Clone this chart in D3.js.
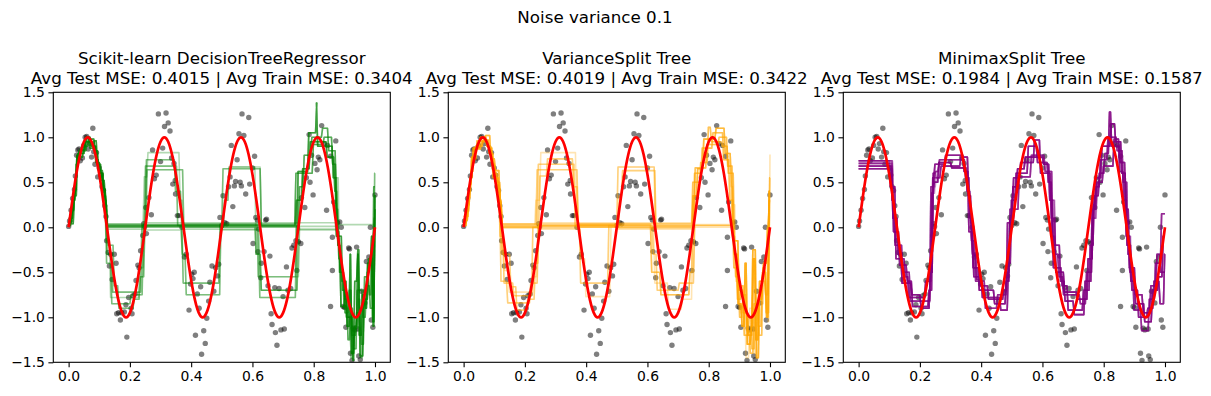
<!DOCTYPE html>
<html><head><meta charset="utf-8">
<script src="https://cdn.jsdelivr.net/npm/d3@7"></script>
<style>
body{margin:0;background:#fff}
svg{display:block}
text{font-family:"DejaVu Sans",sans-serif;fill:#000}
</style>
</head><body>
<svg id="chart" width="1211" height="396"></svg>
<script>
// ---------------- DATA ----------------
const SUPTITLE = "Noise variance 0.1";
const PANEL_TITLES = [
  ["Scikit-learn DecisionTreeRegressor", "Avg Test MSE: 0.4015 | Avg Train MSE: 0.3404"],
  ["VarianceSplit Tree", "Avg Test MSE: 0.4019 | Avg Train MSE: 0.3422"],
  ["MinimaxSplit Tree", "Avg Test MSE: 0.1984 | Avg Train MSE: 0.1587"]
];
const PANEL_COLORS = ["#008000", "#ffa500", "#800080"];
const X_TICKS = [0.0, 0.2, 0.4, 0.6, 0.8, 1.0];
const Y_TICKS = [-1.5, -1.0, -0.5, 0.0, 0.5, 1.0, 1.5];

// noisy training samples (x, y)
const SAMPLES = [
[0.000,0.01],[0.003,0.07],[0.008,0.19],[0.013,0.32],[0.019,0.42],[0.022,0.57],[0.026,0.80],[0.030,0.86],[0.034,0.87],[0.038,0.74],[0.045,0.77],[0.049,0.91],[0.054,1.00],[0.059,1.01],[0.064,0.87],[0.068,0.93],[0.075,0.78],[0.079,1.10],[0.082,0.84],[0.086,0.70],[0.091,0.83],[0.095,0.56],[0.100,0.66],[0.105,0.58],[0.109,0.45],[0.114,0.41],[0.118,0.24],[0.122,0.12],
[0.124,-0.15],[0.129,-0.28],[0.133,-0.43],[0.137,-0.30],[0.142,-0.58],[0.149,-0.30],[0.155,-0.40],[0.157,-0.96],[0.163,-0.95],[0.169,-1.03],[0.173,-0.95],[0.182,-0.94],[0.187,-0.86],[0.190,-1.22],[0.196,-0.78],[0.204,-0.90],[0.207,-0.96],[0.210,-0.76],[0.217,-0.74],[0.220,-0.59],[0.226,-0.42],[0.230,-0.45],[0.235,-0.26],[0.242,-0.09],[0.245,0.04],
[0.248,0.01],[0.252,0.22],[0.254,-0.07],[0.262,0.33],[0.270,0.14],[0.274,0.86],[0.280,0.54],[0.286,0.58],[0.293,1.26],[0.300,0.73],[0.307,0.88],[0.313,1.12],[0.318,1.27],[0.325,1.16],[0.331,1.07],[0.336,0.77],[0.340,0.48],[0.344,0.71],[0.349,0.37],[0.355,0.13],[0.360,0.13],[0.348,0.52],[0.370,0.00],
[0.378,-0.33],[0.384,-0.30],[0.393,-0.92],[0.398,-0.63],[0.402,-0.52],[0.406,-0.57],[0.410,-0.50],[0.414,-1.20],[0.420,-0.74],[0.426,-0.90],[0.431,-0.66],[0.434,-1.41],[0.441,-1.15],[0.446,-1.29],[0.451,-1.01],[0.457,-0.82],[0.461,-0.61],[0.468,-0.43],[0.474,-0.71],[0.480,-0.45],[0.486,-0.54],[0.490,-0.41],[0.494,0.11],
[0.500,0.02],[0.504,0.35],[0.510,0.05],[0.516,0.04],[0.522,0.45],[0.527,0.56],[0.531,0.91],[0.536,0.23],[0.541,0.46],[0.545,0.51],[0.550,0.75],[0.556,1.04],[0.560,0.50],[0.564,0.46],[0.566,1.26],[0.572,1.02],[0.578,0.37],[0.588,1.22],[0.591,0.48],[0.600,0.66],[0.607,0.79],[0.611,0.11],[0.616,0.08],[0.620,-0.02],
[0.602,-0.18],[0.618,-0.27],[0.627,-0.56],[0.629,-0.40],[0.638,-0.27],[0.643,0.08],[0.646,0.09],[0.651,-0.65],[0.657,-0.32],[0.661,-0.96],[0.664,-1.08],[0.673,-0.67],[0.675,-1.17],[0.680,-1.31],[0.687,-0.68],[0.693,-1.14],[0.700,-0.77],[0.704,-1.13],[0.711,-0.44],[0.716,-0.70],[0.725,-0.68],[0.729,-0.23],[0.735,-0.20],[0.742,-0.15],[0.745,-0.48],[0.750,-0.16],[0.758,-0.18],[0.760,0.33],[0.771,0.22],
[0.776,0.55],[0.785,1.03],[0.788,0.50],[0.793,0.80],[0.798,0.36],[0.804,0.71],[0.811,0.64],[0.815,0.78],[0.820,0.75],[0.826,1.13],[0.834,0.93],[0.842,0.19],[0.845,0.91],[0.855,0.79],[0.861,-0.11],[0.865,0.28],[0.872,0.96],[0.878,0.05],[0.885,0.06],[0.890,0.00],
[0.855,-0.88],[0.861,-0.48],[0.896,-0.88],[0.901,-0.89],[0.905,-1.11],[0.914,-0.23],[0.917,-0.24],[0.920,-1.40],[0.925,-1.48],[0.929,-1.12],[0.934,-1.14],[0.940,-0.22],[0.945,-1.13],[0.947,-1.43],[0.952,-1.47],[0.956,-0.71],[0.967,-0.84],[0.972,-0.38],[0.980,-0.33],[0.985,0.00],[0.988,-1.03],[0.993,-1.11],[1.000,0.36]
];

// true function samples
const TRUE_X = [0,0.0125,0.025,0.0375,0.05,0.0625,0.075,0.0875,0.1,0.1125,0.125,0.1375,0.15,0.1625,0.175,0.1875,0.2,0.2125,0.225,0.2375,
0.25,0.2625,0.275,0.2875,0.3,0.3125,0.325,0.3375,0.35,0.3625,0.375,0.3875,0.4,0.4125,0.425,0.4375,0.45,0.4625,0.475,0.4875,
0.5,0.5125,0.525,0.5375,0.55,0.5625,0.575,0.5875,0.6,0.6125,0.625,0.6375,0.65,0.6625,0.675,0.6875,0.7,0.7125,0.725,0.7375,
0.75,0.7625,0.775,0.7875,0.8,0.8125,0.825,0.8375,0.85,0.8625,0.875,0.8875,0.9,0.9125,0.925,0.9375,0.95,0.9625,0.975,0.9875,1.0];
const TRUE_Y = [0,0.309,0.588,0.809,0.951,1,0.951,0.809,0.588,0.309,0,-0.309,-0.588,-0.809,-0.951,-1,-0.951,-0.809,-0.588,-0.309,
0,0.309,0.588,0.809,0.951,1,0.951,0.809,0.588,0.309,0,-0.309,-0.588,-0.809,-0.951,-1,-0.951,-0.809,-0.588,-0.309,
0,0.309,0.588,0.809,0.951,1,0.951,0.809,0.588,0.309,0,-0.309,-0.588,-0.809,-0.951,-1,-0.951,-0.809,-0.588,-0.309,
0,0.309,0.588,0.809,0.951,1,0.951,0.809,0.588,0.309,0,-0.309,-0.588,-0.809,-0.951,-1,-0.951,-0.809,-0.588,-0.309,0];

// flat-segment start per half cycle (used when a tree does not fit that half cycle)
const FLAT_STARTS = [0, 0.122, 0.248, 0.372, 0.497, 0.625, 0.75, 0.88];

// ---- Panel 1 (DecisionTreeRegressor) step pieces per half cycle ----
const G_PEAK1 = {
  a:[[0,0.06],[0.01,0.3],[0.02,0.6],[0.026,0.82],[0.05,0.95],[0.075,0.9],[0.085,0.72],[0.1,0.6],[0.108,0.43],[0.117,0.2]],
  b:[[0,0.02],[0.006,0.19],[0.016,0.42],[0.023,0.8],[0.033,0.86],[0.052,1.0],[0.07,0.9],[0.088,0.75],[0.096,0.6],[0.112,0.35],[0.12,0.18]],
  c:[[0,0.1],[0.012,0.37],[0.021,0.7],[0.03,0.85],[0.056,1.0],[0.066,0.88],[0.08,0.96],[0.09,0.7],[0.104,0.52],[0.116,0.3]],
  d:[[0,0.04],[0.015,0.35],[0.025,0.78],[0.045,0.9],[0.062,0.98],[0.082,0.85],[0.094,0.63],[0.11,0.42],[0.119,0.24]]
};
const G_DIP1 = {
  a:[[0.122,-0.3],[0.14,-0.72],[0.235,0.02]],
  b:[[0.12,-0.4],[0.137,-0.85],[0.2,-0.75],[0.24,0.02]],
  c:[[0.125,-0.2],[0.145,-0.65],[0.16,-0.9],[0.21,-0.8],[0.23,-0.55],[0.245,0.03]],
  d:[[0.118,-0.15],[0.133,-0.78],[0.228,-0.45],[0.243,0.01]]
};
const G_PEAK2 = {
  a:[[0.247,0.68],[0.352,0.02]],
  b:[[0.243,0.56],[0.255,0.83],[0.36,0.3],[0.37,0.02]],
  c:[[0.25,0.75],[0.345,0.4],[0.365,0.03]],
  d:[[0.252,0.64],[0.372,0.02]]
};
const G_DIP2 = {
  a:[[0.37,-0.62],[0.49,0.02]],
  b:[[0.367,-0.3],[0.38,-0.75],[0.493,0.02]]
};
const G_PEAK3 = {
  a:[[0.5,0.65],[0.625,0.02]],
  b:[[0.505,0.3],[0.52,0.67],[0.635,0.02]]
};
const G_DIP3 = {
  a:[[0.615,-0.55],[0.75,0.02]],
  b:[[0.608,-0.3],[0.625,-0.7],[0.745,-0.45],[0.755,0.02]],
  c:[[0.62,-0.78],[0.74,0.02]]
};
const G_PEAK4 = {
  a:[[0.74,0.3],[0.76,0.65],[0.785,0.95],[0.84,0.78],[0.865,0.4],[0.875,0.02]],
  b:[[0.745,0.62],[0.78,1.05],[0.806,1.38],[0.809,0.9],[0.86,0.55],[0.88,0.02]],
  c:[[0.75,0.45],[0.765,0.8],[0.79,1.0],[0.825,1.1],[0.845,0.85],[0.87,0.2],[0.885,-0.1]],
  d:[[0.738,0.6],[0.795,0.92],[0.83,1.0],[0.858,0.7],[0.872,0.3]]
};
const G_DIP4 = {
  a:[[0.875,-0.2],[0.885,-0.88],[0.9,-0.6],[0.905,-1.1],[0.915,-0.3],[0.92,-1.4],[0.93,-1.1],[0.94,-0.3],[0.945,-1.2],[0.955,-0.75],[0.965,-0.9],[0.972,-0.4],[0.985,-0.1],[0.99,-1.05],[0.996,0.36]],
  b:[[0.88,-0.5],[0.895,-0.9],[0.91,-1.0],[0.918,-1.45],[0.928,-1.12],[0.942,-0.8],[0.95,-1.45],[0.958,-0.7],[0.97,-0.5],[0.98,-0.33],[0.987,-1.0],[0.995,0.6]],
  c:[[0.87,-0.1],[0.89,-0.7],[0.903,-1.0],[0.924,-1.48],[0.93,-0.6],[0.94,-0.25],[0.947,-1.43],[0.96,-0.8],[0.975,-0.35],[0.99,-1.1],[0.996,0.2]],
  d:[[0.878,-0.35],[0.888,-0.6],[0.898,-0.95],[0.912,-0.7],[0.921,-1.2],[0.936,-0.95],[0.952,-1.3],[0.962,-0.55],[0.978,-0.75],[0.986,-0.2],[0.994,0.1]],
  e:[[0.872,-0.05],[0.882,-0.5],[0.897,-0.8],[0.908,-1.25],[0.917,-0.9],[0.926,-1.35],[0.938,-0.7],[0.957,-1.0],[0.968,-0.65],[0.981,-0.9],[0.992,0.45]]
};
const G_TREES = ["aaa-a-aa","bb-a-bbb","c-b--acd","dc--b-da","a-c---be","bd-b--ac","c-d--c-a","d---a-cd","aa----dc",
                 "b-a-bbba","c----aae","db-----c","a--a--ca","bc-b-c-d","c-----dc","d-c---be","a-----a-","b-d--b-b"];
const G_BASES = [0.02,0.0,0.03,0.01,0.04,0.02,-0.02,0.01,0.03,0.0,0.02,0.05,0.01,-0.03,0.02,0.0,0.03,0.01];

// ---- Panel 2 (VarianceSplit) ----
const O_PEAK1 = {
  a:[[0,0.02],[0.008,0.25],[0.018,0.55],[0.027,0.88],[0.05,1.0],[0.072,0.9],[0.088,0.7],[0.1,0.55],[0.112,0.3]],
  b:[[0,0.08],[0.012,0.4],[0.022,0.78],[0.035,0.9],[0.06,0.97],[0.08,0.82],[0.095,0.6],[0.108,0.42],[0.118,0.15]],
  c:[[0,0.04],[0.006,0.18],[0.016,0.48],[0.024,0.76],[0.04,0.96],[0.068,1.02],[0.085,0.76],[0.1,0.63],[0.115,0.28]],
  d:[[0,0.12],[0.014,0.33],[0.02,0.62],[0.03,0.87],[0.055,0.95],[0.078,0.88],[0.092,0.55],[0.106,0.5],[0.117,0.22]]
};
const O_DIP1 = {
  a:[[0.12,-0.25],[0.13,-0.48],[0.145,-0.72],[0.225,-0.55],[0.238,0.02]],
  b:[[0.118,-0.6],[0.14,-0.84],[0.215,-0.62],[0.24,0.01]],
  c:[[0.122,-0.3],[0.15,-0.66],[0.17,-0.92],[0.205,-0.8],[0.23,-0.4],[0.242,0.03]],
  d:[[0.115,-0.1],[0.128,-0.62],[0.16,-0.76],[0.222,0.0]]
};
const O_PEAK2 = {
  a:[[0.24,0.7],[0.36,0.02]],
  b:[[0.232,0.3],[0.248,0.83],[0.365,0.01]],
  c:[[0.245,0.57],[0.27,0.76],[0.355,0.45],[0.37,0.03]],
  d:[[0.236,0.64],[0.37,0.0]]
};
const O_DIP2 = {
  a:[[0.378,-0.62],[0.47,0.02]],
  b:[[0.38,-0.35],[0.395,-0.77],[0.477,0.01]]
};
const O_PEAK3 = {
  a:[[0.5,0.67],[0.622,0.02]],
  b:[[0.505,0.35],[0.515,0.63],[0.624,0.01]]
};
const O_DIP3 = {
  a:[[0.61,-0.5],[0.64,-0.75],[0.735,-0.5],[0.765,0.02]],
  b:[[0.62,-0.62],[0.665,-0.91],[0.71,-0.8],[0.75,0.01]],
  c:[[0.615,-0.3],[0.628,-0.7],[0.7,-0.62],[0.77,0.03]]
};
const O_PEAK4 = {
  a:[[0.745,0.35],[0.76,0.65],[0.78,0.98],[0.82,1.1],[0.85,0.82],[0.87,0.45],[0.885,0.0]],
  b:[[0.75,0.6],[0.775,0.88],[0.81,1.05],[0.845,0.75],[0.865,0.3],[0.89,-0.1]],
  c:[[0.744,0.5],[0.77,0.72],[0.795,1.11],[0.805,0.95],[0.84,0.9],[0.86,0.6],[0.88,0.15]],
  d:[[0.752,0.66],[0.79,0.92],[0.83,1.0],[0.858,0.68],[0.876,0.25]]
};
const O_DIP4 = {
  a:[[0.88,-0.3],[0.892,-0.85],[0.905,-1.1],[0.915,-0.4],[0.922,-1.3],[0.935,-1.1],[0.942,-0.35],[0.95,-1.25],[0.96,-0.8],[0.972,-0.5],[0.985,-1.0],[0.993,0.4]],
  b:[[0.885,-0.6],[0.9,-0.95],[0.918,-1.45],[0.93,-0.9],[0.945,-1.4],[0.955,-0.7],[0.968,-0.85],[0.978,-0.35],[0.99,-1.05],[0.996,0.81]],
  c:[[0.876,-0.15],[0.895,-0.7],[0.91,-0.95],[0.925,-1.2],[0.94,-0.25],[0.952,-1.45],[0.962,-0.6],[0.975,-0.4],[0.988,0.0],[0.994,0.3]],
  d:[[0.878,-0.45],[0.89,-0.8],[0.903,-0.65],[0.912,-1.2],[0.927,-1.0],[0.937,-1.35],[0.948,-0.9],[0.958,-1.1],[0.97,-0.6],[0.982,-0.75],[0.992,-0.1]],
  e:[[0.874,-0.1],[0.884,-0.55],[0.897,-1.0],[0.908,-0.75],[0.92,-1.15],[0.932,-1.4],[0.944,-0.85],[0.96,-1.2],[0.973,-0.45],[0.984,-0.95],[0.995,0.55]]
};
const O_TREES = ["ab-a-aac","bac-a-bd","c-d--bca","dc--b-dc","a-a---ae","bd-b--ba","c-b--c-c","d---a-ad","ab----ca",
                 "b-c---dc","c----aae","dc-----a","a--a--bc","bd---c-d","c-----ca","d-a-b-db","a------e","b-d--a-a"];
const O_BASES = [0.01,0.03,0.0,0.02,0.04,-0.02,0.02,0.01,0.05,0.0,0.03,0.02,-0.01,0.02,0.04,0.01,0.0,0.03];

// ---- Panel 3 (MinimaxSplit) ----
const M_H0 = { a:[[0,0.74]], b:[[0,0.68]], c:[[0,0.65]], d:[[0,0.71]] };
const M_H1 = {
  a:[[0.105,0.3],[0.115,-0.2],[0.14,-0.5],[0.165,-0.82],[0.232,0.45]],
  b:[[0.11,-0.05],[0.13,-0.42],[0.155,-0.6],[0.172,-0.88],[0.226,-0.7],[0.238,0.55]],
  c:[[0.1,0.45],[0.118,-0.35],[0.148,-0.55],[0.16,-0.78],[0.215,-0.6],[0.235,0.38]],
  d:[[0.108,0.1],[0.125,-0.3],[0.138,-0.62],[0.17,-0.75],[0.2,-0.9],[0.23,-0.5],[0.24,0.6]]
};
const M_H2 = {
  a:[[0.248,0.62],[0.26,0.75],[0.345,0.55],[0.36,0.1]],
  b:[[0.245,0.7],[0.28,0.8],[0.34,0.62],[0.356,-0.05]],
  c:[[0.25,0.55],[0.265,0.68],[0.33,0.78],[0.355,0.35],[0.365,-0.15]],
  d:[[0.243,0.5],[0.258,0.72],[0.3,0.66],[0.35,0.4],[0.362,0.05]]
};
const M_H3 = {
  a:[[0.37,-0.45],[0.39,-0.7],[0.44,-0.85],[0.478,-0.6],[0.49,0.1]],
  b:[[0.368,-0.3],[0.382,-0.58],[0.4,-0.78],[0.46,-0.92],[0.485,-0.4],[0.495,0.3]],
  c:[[0.372,-0.55],[0.395,-0.65],[0.42,-0.8],[0.47,-0.7],[0.482,0.05]],
  d:[[0.365,-0.15],[0.378,-0.6],[0.41,-0.9],[0.45,-0.75],[0.48,-0.5],[0.49,0.2]]
};
const M_H4 = {
  a:[[0.5,0.45],[0.515,0.65],[0.54,0.78],[0.6,0.7],[0.62,0.3]],
  b:[[0.498,0.3],[0.51,0.6],[0.55,0.9],[0.58,0.72],[0.615,0.5],[0.628,-0.1]],
  c:[[0.502,0.55],[0.525,0.72],[0.57,0.97],[0.59,0.6],[0.625,0.1]],
  d:[[0.505,0.2],[0.52,0.56],[0.56,0.8],[0.605,0.62],[0.63,-0.2]]
};
const M_H5 = {
  a:[[0.635,-0.3],[0.65,-0.55],[0.665,-0.75],[0.72,-0.85],[0.74,-0.5],[0.76,0.1]],
  b:[[0.632,-0.45],[0.66,-0.65],[0.68,-0.92],[0.73,-0.7],[0.752,-0.2],[0.765,0.35]],
  c:[[0.638,-0.2],[0.655,-0.6],[0.67,-0.82],[0.7,-0.97],[0.735,-0.6],[0.758,0.2]],
  d:[[0.64,-0.5],[0.668,-0.72],[0.71,-0.8],[0.745,-0.35],[0.762,0.25]]
};
const M_H6 = {
  a:[[0.77,0.45],[0.785,0.75],[0.81,1.0],[0.84,0.85],[0.86,0.5],[0.875,-0.3]],
  b:[[0.772,0.55],[0.79,0.9],[0.82,1.15],[0.835,0.95],[0.855,0.6],[0.87,-0.1]],
  c:[[0.768,0.35],[0.782,0.6],[0.8,0.82],[0.815,1.28],[0.822,0.9],[0.85,0.72],[0.868,0.2],[0.88,-0.45]],
  d:[[0.775,0.5],[0.795,0.68],[0.83,0.98],[0.848,0.62],[0.862,0.3],[0.872,-0.2]]
};
const M_H7 = {
  a:[[0.885,-0.6],[0.9,-0.85],[0.93,-1.05],[0.955,-0.7],[0.975,-0.55],[0.99,-0.1]],
  b:[[0.882,-0.5],[0.895,-0.92],[0.92,-1.15],[0.945,-0.8],[0.965,-0.4],[0.985,0.15]],
  c:[[0.888,-0.7],[0.91,-1.0],[0.94,-0.9],[0.96,-0.6],[0.98,-0.85],[0.995,-0.3]],
  d:[[0.885,-0.45],[0.9,-0.75],[0.925,-0.95],[0.95,-0.65],[0.97,-0.3],[0.982,-0.5]]
};
const M_TREES = ["abcdabcd","bcdabcda","cdabcdab","dabcdabc","acbdacbd","bdacbdac","cadbcadb","dbcadbca","abdcabdc",
                 "badcbadc","cdbacdba","dcabdcab","adcbadcb","bacdbacd","cbadcbad","dcbadcba","acdbbdca","bdcaacbd",
                 "aabbccdd","bbccddaa","ccddaabb","ddaabbcc","abbaabba","cddccddc"];
const M_BASES = [0,0,0,0,0,0,0,0,0,0,0,0,0,0,0,0,0,0,0,0,0,0,0,0];

// ---------------- BUILD ----------------
const TRANSITION = 0.004; // prediction grid spacing: transitions are drawn as steep ramps
function buildTree(pieces, combo, base) {
  let pts = [];
  for (let k = 0; k < pieces.length; k++) {
    const ch = combo[k];
    const piece = (ch === '-') ? [[FLAT_STARTS[k], base]] : pieces[k][ch];
    const x0 = piece[0][0];
    pts = pts.filter(p => p[0] < x0);
    pts = pts.concat(piece);
  }
  const out = [pts[0]];
  for (let i = 1; i < pts.length; i++) {
    out.push([pts[i][0], pts[i - 1][1]]);
    out.push([Math.min(1, pts[i][0] + TRANSITION), pts[i][1]]);
  }
  out.push([1.0, pts[pts.length - 1][1]]);
  return out;
}
const PANEL_TREES = [
  G_TREES.map((c, i) => buildTree([G_PEAK1, G_DIP1, G_PEAK2, G_DIP2, G_PEAK3, G_DIP3, G_PEAK4, G_DIP4], c, G_BASES[i])),
  O_TREES.map((c, i) => buildTree([O_PEAK1, O_DIP1, O_PEAK2, O_DIP2, O_PEAK3, O_DIP3, O_PEAK4, O_DIP4], c, O_BASES[i])),
  M_TREES.map((c, i) => buildTree([M_H0, M_H1, M_H2, M_H3, M_H4, M_H5, M_H6, M_H7], c, M_BASES[i]))
];

// ---------------- DRAW ----------------
const svg = d3.select("#chart");
const PANEL_LEFTS = [53.3, 448.3, 843.3];
const PW = 337, PT = 92.3, PH = 270;

svg.append("text").attr("x", 595).attr("y", 23).attr("text-anchor", "middle")
  .style("font-size", "16.7px").text(SUPTITLE);

const fmt = v => d3.format(".1f")(v).replace("-", "\u2212");

PANEL_LEFTS.forEach((L, pi) => {
  const x = d3.scaleLinear().domain([-0.05, 1.05]).range([0, PW]);
  const y = d3.scaleLinear().domain([-1.5, 1.5]).range([PH, 0]);
  const g = svg.append("g").attr("transform", `translate(${L},${PT})`);

  const clipId = "clip" + pi;
  g.append("clipPath").attr("id", clipId).append("rect").attr("width", PW).attr("height", PH);
  const plot = g.append("g").attr("clip-path", `url(#${clipId})`);

  // samples
  plot.selectAll("circle").data(SAMPLES).join("circle")
    .attr("cx", d => x(d[0])).attr("cy", d => y(d[1])).attr("r", 2.7)
    .attr("fill", "#000").attr("fill-opacity", 0.5);

  // trees
  const stepLine = d3.line().x(d => x(d[0])).y(d => y(d[1]));
  plot.selectAll("path.tree").data(PANEL_TREES[pi]).join("path").attr("class", "tree")
    .attr("d", stepLine).attr("fill", "none")
    .attr("stroke", PANEL_COLORS[pi]).attr("stroke-opacity", 0.3).attr("stroke-width", 1.6)
    .attr("stroke-linejoin", "round");

  // true function
  const trueLine = d3.line().x(d => x(d[0])).y(d => y(d[1])).curve(d3.curveNatural);
  plot.append("path").datum(TRUE_X.map((v, i) => [v, TRUE_Y[i]]))
    .attr("d", trueLine).attr("fill", "none").attr("stroke", "#ff0000").attr("stroke-width", 2.7);

  // axes
  const xa = g.append("g").attr("transform", `translate(0,${PH})`)
    .call(d3.axisBottom(x).tickValues(X_TICKS).tickFormat(fmt).tickSizeOuter(0).tickSize(4.9).tickPadding(3.5));
  const ya = g.append("g")
    .call(d3.axisLeft(y).tickValues(Y_TICKS).tickFormat(fmt).tickSizeOuter(0).tickSize(4.9).tickPadding(3.5));
  [xa, ya].forEach(a => {
    a.select(".domain").remove();
    a.selectAll("line").attr("stroke", "#000").attr("stroke-width", 1.1);
    a.selectAll("text").style("font-size", "13.9px").attr("font-family", "DejaVu Sans").attr("fill", "#000");
  });

  g.append("rect").attr("width", PW).attr("height", PH).attr("fill", "none")
    .attr("stroke", "#000").attr("stroke-width", 1.1);

  // titles
  g.append("text").attr("x", PW / 2).attr("y", -28.3).attr("text-anchor", "middle")
    .style("font-size", "16.7px").text(PANEL_TITLES[pi][0]);
  g.append("text").attr("x", PW / 2).attr("y", -8.3).attr("text-anchor", "middle")
    .style("font-size", "16.7px").text(PANEL_TITLES[pi][1]);
});
</script>
</body></html>
